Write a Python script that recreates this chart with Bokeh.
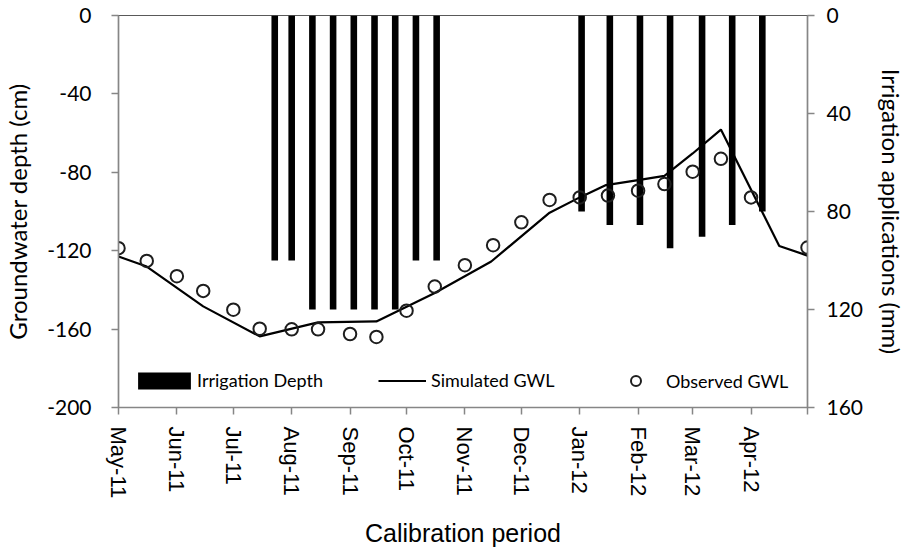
import pandas as pd
from bokeh.plotting import figure
from bokeh.models import Range1d, LinearAxis, FixedTicker, Legend, LegendItem
from bokeh.embed import file_html
from bokeh.resources import INLINE

# ---- data ----
obs_dates = ["2011-05-01", "2011-05-16", "2011-06-01", "2011-06-15", "2011-07-01",
             "2011-07-15", "2011-08-01", "2011-08-15", "2011-09-01", "2011-09-15",
             "2011-10-01", "2011-10-16", "2011-11-01", "2011-11-16", "2011-12-01",
             "2011-12-16", "2012-01-01", "2012-01-16", "2012-02-01", "2012-02-15",
             "2012-03-01", "2012-03-16", "2012-04-01", "2012-05-01"]
obs_gwl = [-118.7, -125.2, -133.0, -140.5, -150.1, -159.8, -160.1, -160.1, -162.5, -164.0,
           -150.6, -138.3, -127.4, -117.2, -105.5, -94.1, -92.8, -91.9, -89.4, -86.0,
           -79.7, -73.1, -92.8, -118.4]

sim_dates = ["2011-05-01", "2011-05-16", "2011-06-15", "2011-07-15", "2011-08-15",
             "2011-09-15", "2011-10-16", "2011-11-15", "2011-12-16", "2012-01-01",
             "2012-01-15", "2012-02-01", "2012-02-15", "2012-03-01", "2012-03-16",
             "2012-04-16", "2012-05-01"]
sim_gwl = [-123.0, -128.1, -148.4, -163.7, -156.6, -156.1, -141.6, -125.5, -100.6, -92.8,
           -86.5, -84.0, -81.8, -70.4, -58.2, -117.6, -122.5]

irr_dates = ["2011-07-23", "2011-08-01", "2011-08-12", "2011-08-23", "2011-09-03",
             "2011-09-14", "2011-09-25", "2011-10-06", "2011-10-17",
             "2012-01-02", "2012-01-17", "2012-02-02", "2012-02-18", "2012-03-06",
             "2012-03-22", "2012-04-07"]
irr_mm = [100, 100, 120, 120, 120, 120, 120, 100, 100,
          80, 85.5, 85.5, 95, 90.3, 85.5, 80]

month_ticks = ["2011-05-01", "2011-06-01", "2011-07-01", "2011-08-01", "2011-09-01",
               "2011-10-01", "2011-11-01", "2011-12-01", "2012-01-01", "2012-02-01",
               "2012-03-01", "2012-04-01", "2012-05-01"]
month_labels = ["May-11", "Jun-11", "Jul-11", "Aug-11", "Sep-11", "Oct-11", "Nov-11",
                "Dec-11", "Jan-12", "Feb-12", "Mar-12", "Apr-12", ""]

left_ticks = [0, -40, -80, -120, -160, -200]
left_labels = ["0", "-40", "-80", "-120", "-160", "-200"]
right_ticks = [0, 40, 80, 120, 160]

# ---- build ----
obs_x = pd.to_datetime(obs_dates)
sim_x = pd.to_datetime(sim_dates)
irr_x = pd.to_datetime(irr_dates)
tick_x = pd.to_datetime(month_ticks)
tick_ms = [float(t.value // 10**6) for t in tick_x]

AXC = "#868686"
TFONT = "Lato"

p = figure(width=909, height=550, x_axis_type="datetime",
           x_range=Range1d(tick_x[0], tick_x[-1]), y_range=Range1d(-200, 0),
           output_backend="svg", toolbar_location=None,
           min_border_left=117, min_border_right=102,
           min_border_top=15, min_border_bottom=142)
p.extra_y_ranges = {"irr": Range1d(start=160, end=0)}

p.grid.visible = False
p.background_fill_color = "white"
p.border_fill_color = "white"
p.outline_line_color = "#595959"
p.outline_line_width = 1.2

bar_w = 3.5 * 24 * 3600 * 1000
r_bar = p.vbar(x=irr_x, top=0, bottom=irr_mm, width=bar_w, y_range_name="irr",
               fill_color="black", line_color="black", line_width=0)
r_line = p.line(sim_x, sim_gwl, line_color="black", line_width=2.2)
r_obs = p.scatter(obs_x, obs_gwl, marker="circle", size=12.5, fill_alpha=0,
                  line_color="#1e1e1e", line_width=2)

# x axis
xa = p.xaxis[0]
xa.ticker = FixedTicker(ticks=tick_ms)
xa.major_label_overrides = {ms: lab for ms, lab in zip(tick_ms, month_labels)}
xa.major_label_orientation = "vertical"
xa.major_label_text_font = "Liberation Sans"
xa.major_label_text_font_size = "22px"
xa.major_label_text_color = "black"
xa.major_label_standoff = 12
xa.axis_label = "Calibration period"
xa.axis_label_text_font = "Liberation Sans"
xa.axis_label_text_font_size = "25px"
xa.axis_label_text_font_style = "normal"
xa.axis_label_text_color = "black"
xa.axis_label_standoff = 18

# left axis
ya = p.yaxis[0]
ya.ticker = FixedTicker(ticks=left_ticks)
ya.major_label_overrides = {t: s for t, s in zip(left_ticks, left_labels)}
ya.axis_label = "Groundwater depth (cm)"

# right axis
ra = LinearAxis(y_range_name="irr", ticker=FixedTicker(ticks=right_ticks),
                axis_label="Irrigation applications (mm)")
p.add_layout(ra, "right")

for ax in (xa, ya, ra):
    ax.axis_line_color = AXC
    ax.axis_line_width = 1.5
    ax.major_tick_line_color = AXC
    ax.major_tick_line_width = 1.5
    ax.major_tick_out = 7
    ax.major_tick_in = 0
    ax.minor_tick_line_color = None

for ax in (ya, ra):
    ax.major_label_text_font = TFONT
    ax.major_label_text_font_size = "21px"
    ax.major_label_text_color = "black"
    ax.axis_label_text_font = TFONT
    ax.axis_label_text_font_size = "24px"
    ax.axis_label_text_font_style = "normal"
    ax.axis_label_text_color = "black"

ya.major_label_standoff = 20
ya.axis_label_standoff = 12
ra.major_label_standoff = 12
ra.axis_label_standoff = 11


def make_legend(label, rend, x, y, gw, gh, standoff):
    lg = Legend(items=[LegendItem(label=label, renderers=[rend])],
                location=(x, y))
    lg.glyph_width = gw
    lg.glyph_height = gh
    lg.label_standoff = standoff
    lg.padding = 0
    lg.margin = 0
    lg.border_line_alpha = 0
    lg.background_fill_alpha = 0
    lg.label_text_font = TFONT
    lg.label_text_font_size = "18px"
    lg.label_text_color = "black"
    lg.label_text_baseline = "middle"
    p.add_layout(lg, "center")


make_legend("Irrigation Depth", r_bar, 130 - 117, 16, 66, 21, 0)
make_legend("Simulated GWL", r_line, 377 - 117, 16, 48, 17, 5)
make_legend("Observed GWL", r_obs, 622 - 117, 14, 25, 25, 18)

open("out.html", "w").write(file_html(p, INLINE))
